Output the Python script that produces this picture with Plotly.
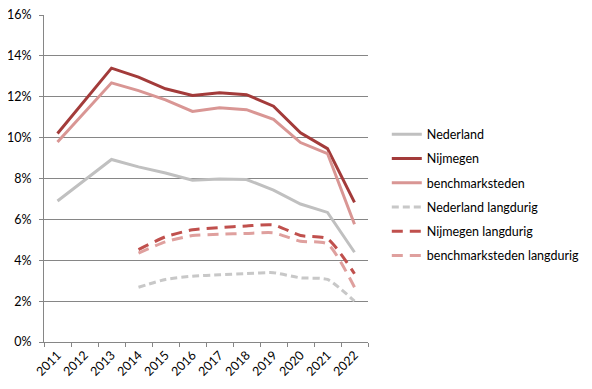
import plotly.graph_objects as go

years = ["2011", "2012", "2013", "2014", "2015", "2016", "2017", "2018", "2019", "2020", "2021", "2022"]

nederland = [6.9, None, 8.93, 8.57, 8.27, 7.92, 7.97, 7.95, 7.43, 6.75, 6.34, 4.39]
nijmegen = [10.2, None, 13.4, 12.96, 12.39, 12.06, 12.2, 12.1, 11.54, 10.24, 9.46, 6.83]
benchmark = [9.79, None, 12.68, 12.3, 11.85, 11.28, 11.46, 11.37, 10.89, 9.76, 9.22, 5.76]

nederland_l = [None, None, None, 2.68, 3.06, 3.22, 3.29, 3.35, 3.39, 3.14, 3.06, 2.0]
nijmegen_l = [None, None, None, 4.52, 5.15, 5.49, 5.6, 5.68, 5.73, 5.21, 5.05, 3.34]
benchmark_l = [None, None, None, 4.35, 4.9, 5.21, 5.27, 5.31, 5.34, 4.93, 4.8, 2.68]

yticks = [0, 2, 4, 6, 8, 10, 12, 14, 16]
ytick_labels = ["0%", "2%", "4%", "6%", "8%", "10%", "12%", "14%", "16%"]

series = [
    ("Nederland", nederland, "#C0C0C0", "solid", "linear"),
    ("Nijmegen", nijmegen, "#A33B3A", "solid", "linear"),
    ("benchmarksteden", benchmark, "#D99694", "solid", "linear"),
    ("Nederland langdurig", nederland_l, "#C8C8C8", "7px,4px", "spline"),
    ("Nijmegen langdurig", nijmegen_l, "#C0504D", "11px,7px", "spline"),
    ("benchmarksteden langdurig", benchmark_l, "#DFA09E", "11px,7px", "spline"),
]

fig = go.Figure()
for i, (name, vals, color, dash, shape) in enumerate(series):
    fig.add_trace(go.Scatter(
        x=years, y=vals, name=name, mode="lines",
        line=dict(color=color, width=3, dash=dash, shape=shape, smoothing=0.6),
        connectgaps=True, legendgroup=str(i),
    ))

font = "Lato, 'Open Sans', sans-serif"
fig.update_layout(
    width=584, height=381,
    margin=dict(l=36, r=224, t=7, b=47),
    paper_bgcolor="white", plot_bgcolor="white",
    font=dict(family=font, size=12, color="#000000"),
    showlegend=True,
    legend=dict(
        x=1.058, xanchor="left", y=0.68, yanchor="top",
        font=dict(size=12.5, color="#000000"),
        tracegroupgap=5, itemwidth=30,
        bgcolor="rgba(0,0,0,0)",
    ),
    xaxis=dict(
        type="category", tickson="boundaries", ticks="outside", ticklen=4,
        tickcolor="#868686", showline=True, linecolor="#868686", linewidth=1,
        showgrid=False, tickangle=-45, tickfont=dict(size=12.5),
        range=[-0.5, 11.5], fixedrange=True, automargin=False,
        ticklabeloverflow="allow",
    ),
    yaxis=dict(
        range=[0, 16], tickvals=yticks, ticktext=ytick_labels,
        showgrid=True, gridcolor="#868686", gridwidth=1,
        showline=True, linecolor="#868686", linewidth=1,
        ticks="outside", ticklen=4, tickcolor="#868686",
        tickfont=dict(size=12.5), zeroline=False, ticklabelstandoff=5,
        automargin=False, ticklabeloverflow="allow",
    ),
)

fig.write_html("out.html")
